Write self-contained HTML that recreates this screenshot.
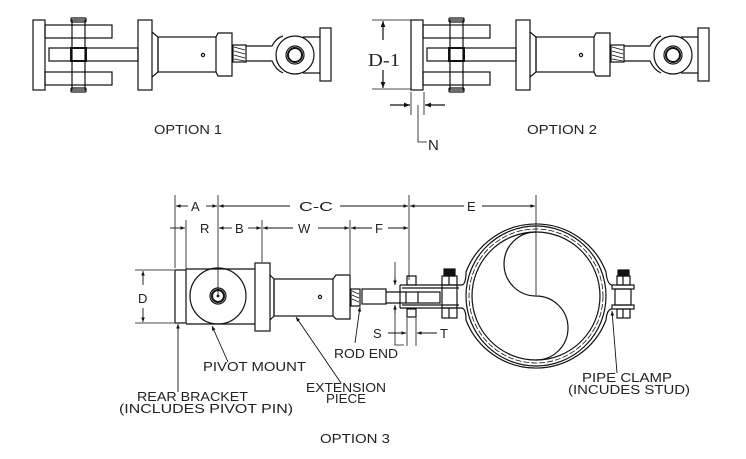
<!DOCTYPE html>
<html><head><meta charset="utf-8"><style>
html,body{margin:0;padding:0;background:#fff}
svg{display:block}
text{font-family:"Liberation Sans",sans-serif;font-size:13px;fill:#222}
</style></head><body>
<svg width="746" height="459" viewBox="0 0 746 459" xmlns="http://www.w3.org/2000/svg" fill="none" stroke="#111" stroke-width="1.2">
<defs>
<marker id="ar" viewBox="0 0 10 10" refX="10" refY="5" markerWidth="7" markerHeight="5" orient="auto-start-reverse"><path d="M0,1 L10,5 L0,9 z" fill="#111" stroke="none"/></marker>
</defs>
<!-- OPTION 1 -->
<g>
<rect x="33" y="20" width="12" height="70"/>
<rect x="45" y="25" width="67" height="13"/>
<rect x="45" y="72" width="67" height="13"/>
<rect x="49" y="48" width="89" height="13"/>
<rect x="72" y="20" width="13" height="70"/>
<rect x="71" y="18" width="15" height="4" rx="1"/>
<rect x="71" y="88" width="15" height="4" rx="1"/>
<rect x="71" y="48" width="15" height="13" stroke-width="2"/>
<rect x="138" y="20" width="14" height="70"/>
<path d="M152,32 L158,37 L158,72 L152,77"/>
<rect x="158" y="37" width="58" height="35"/>
<circle cx="203" cy="55" r="1.6"/>
<path d="M216,37 L218,33 L232,33 L232,76 L218,76 L216,72"/>
<rect x="233" y="45" width="13" height="17"/>
<path d="M234,47 l11,3 M234,51 l11,3 M234,55 l11,3 M234,59 l11,2" stroke-width="0.8"/>
<path d="M246,46 L272,46 Q276,38 283,36 M246,61 L272,61 Q276,70 283,73"/>
<circle cx="295" cy="55" r="19"/>
<circle cx="295" cy="55" r="9"/>
<circle cx="295" cy="55" r="7" stroke-width="2"/>
<path d="M303,37 L320,37 M303,73 L320,73"/>
<rect x="320" y="28" width="11" height="53"/>
</g>
<text x="154" y="134" textLength="68" lengthAdjust="spacingAndGlyphs" stroke="none">OPTION 1</text>
<!-- OPTION 2 -->
<g transform="translate(378,0)">
<rect x="33" y="20" width="12" height="70"/>
<rect x="45" y="25" width="67" height="13"/>
<rect x="45" y="72" width="67" height="13"/>
<rect x="49" y="48" width="89" height="13"/>
<rect x="72" y="20" width="13" height="70"/>
<rect x="71" y="18" width="15" height="4" rx="1"/>
<rect x="71" y="88" width="15" height="4" rx="1"/>
<rect x="71" y="48" width="15" height="13" stroke-width="2"/>
<rect x="138" y="20" width="14" height="70"/>
<path d="M152,32 L158,37 L158,72 L152,77"/>
<rect x="158" y="37" width="58" height="35"/>
<circle cx="203" cy="55" r="1.6"/>
<path d="M216,37 L218,33 L232,33 L232,76 L218,76 L216,72"/>
<rect x="233" y="45" width="13" height="17"/>
<path d="M234,47 l11,3 M234,51 l11,3 M234,55 l11,3 M234,59 l11,2" stroke-width="0.8"/>
<path d="M246,46 L272,46 Q276,38 283,36 M246,61 L272,61 Q276,70 283,73"/>
<circle cx="295" cy="55" r="19"/>
<circle cx="295" cy="55" r="9"/>
<circle cx="295" cy="55" r="7" stroke-width="2"/>
<path d="M303,37 L320,37 M303,73 L320,73"/>
<rect x="320" y="28" width="11" height="53"/>
</g>
<path d="M372,20 H411 M372,89 H411" stroke-width="0.8"/>
<path d="M383,40 V21" marker-end="url(#ar)"/><path d="M383,70 V88" marker-end="url(#ar)"/>
<text x="368" y="66" textLength="32" lengthAdjust="spacingAndGlyphs" stroke="none" style="font-family:'Liberation Serif',serif;font-size:18px">D-1</text>
<path d="M411,92 V115 M424,92 V115" stroke-width="0.8"/>
<path d="M390,105 H410" marker-end="url(#ar)"/><path d="M445,105 H425" marker-end="url(#ar)"/>
<path d="M418,105 V142 H427" stroke-width="0.8"/>
<text x="428" y="150" stroke="none" style="font-size:15px">N</text>
<text x="527" y="134" textLength="70" lengthAdjust="spacingAndGlyphs" stroke="none">OPTION 2</text>

<!-- OPTION 3 -->
<rect x="175" y="270" width="11" height="53"/>
<path d="M186,269 H255 M186,324 H255"/>
<circle cx="218" cy="296" r="28"/>
<circle cx="218" cy="296" r="8"/>
<circle cx="218" cy="296" r="6" stroke-width="2"/>
<circle cx="218" cy="296" r="0.8" fill="#111"/>
<rect x="255" y="263" width="15" height="68"/>
<path d="M270,275 L274,279 L274,316 L270,320"/>
<rect x="274" y="279" width="59" height="37"/>
<circle cx="320" cy="297" r="1.6"/>
<path d="M333,279 L336,275 L350,275 L350,319 L336,319 L333,316"/>
<rect x="351" y="289" width="9" height="17"/>
<path d="M352,291 l7,3 M352,295 l7,3 M352,299 l7,3" stroke-width="0.8"/>
<rect x="362" y="289" width="24" height="15"/>
<path d="M386,292 H406 M386,303 H406"/>
<path d="M400,285 H462 M400,308 H462 M400,285 V308"/>
<path d="M402,288 H459 M402,305 H459"/>
<rect x="406" y="292" width="34" height="11"/>
<path d="M418,292 V303"/>
<rect x="407" y="276" width="9" height="9"/>
<rect x="407" y="309" width="9" height="8"/>
<rect x="442" y="276" width="15" height="9"/><path d="M449,276 V285"/>
<rect x="444" y="269" width="11" height="7" fill="#111"/>
<rect x="442" y="308" width="15" height="10"/><path d="M449,308 V318"/>
<path d="M442,285 V308 M457,285 V308"/>
<!-- pipe clamp -->
<path d="M462,285 Q466,284 466,272 A75,75 0 0,1 606,272 Q607,284 612,285"/>
<path d="M462,308 Q466,309 466,320 A75,75 0 0,0 606,320 Q607,309 612,309"/>
<circle cx="536" cy="296" r="70"/>
<circle cx="536" cy="296" r="67" stroke-dasharray="6,2" stroke-width="0.8"/>
<circle cx="536" cy="296" r="64"/>
<path d="M536,232 A32,32 0 0,0 536,296 A32,32 0 0,1 536,360"/>
<rect x="612" y="285" width="22" height="4"/>
<rect x="612" y="305" width="22" height="4"/>
<rect x="615" y="289" width="16" height="16"/>
<rect x="617" y="276" width="13" height="9"/><path d="M623,276 V285"/>
<rect x="618" y="270" width="11" height="6" fill="#111"/>
<rect x="617" y="309" width="13" height="9"/><path d="M623,309 V318"/>

<!-- dimensions -->
<g stroke-width="0.8">
<path d="M175,195 V268 M218,195 V295 M409,195 V280 M536,195 V295 M186,220 V270 M262,220 V262 M350,220 V274"/>
<path d="M135,270 H174 M135,323 H174"/>
<path d="M395,262 V284 M395,305 V345 H404 M407,318 V346 M416,318 V346"/>
</g>
<g stroke-width="0.9">
<path d="M188,206 H176" marker-end="url(#ar)"/><path d="M206,206 H217" marker-end="url(#ar)"/>
<path d="M290,206 H219" marker-end="url(#ar)"/><path d="M340,206 H408" marker-end="url(#ar)"/>
<path d="M464,206 H410" marker-end="url(#ar)"/><path d="M482,206 H535" marker-end="url(#ar)"/>
<path d="M170,228 H185" marker-end="url(#ar)"/>
<path d="M232,228 H219" marker-end="url(#ar)"/><path d="M248,228 H261" marker-end="url(#ar)"/>
<path d="M293,228 H263" marker-end="url(#ar)"/><path d="M318,228 H349" marker-end="url(#ar)"/>
<path d="M372,228 H351" marker-end="url(#ar)"/><path d="M388,228 H408" marker-end="url(#ar)"/>
<path d="M143,285 V271" marker-end="url(#ar)"/><path d="M143,308 V322" marker-end="url(#ar)"/>
<path d="M395,277 V285" marker-end="url(#ar)"/><path d="M395,313 V305" marker-end="url(#ar)"/>
<path d="M388,333 H406" marker-end="url(#ar)"/><path d="M437,333 H417" marker-end="url(#ar)"/>
<path d="M178,392 V324" marker-end="url(#ar)"/>
<path d="M228,362 L212,326" marker-end="url(#ar)"/>
<path d="M341,383 L296,317" marker-end="url(#ar)"/>
<path d="M355,343 L360,307" marker-end="url(#ar)"/>
<path d="M617,373 L612,311" marker-end="url(#ar)"/>
</g>
<g stroke="none" style="font-size:15px">
<text x="191" y="211">A</text>
<text x="299" y="211" textLength="34" lengthAdjust="spacingAndGlyphs">C-C</text>
<text x="467" y="211">E</text>
<text x="200" y="233">R</text>
<text x="235" y="233">B</text>
<text x="298" y="233">W</text>
<text x="375" y="233">F</text>
<text x="138" y="303">D</text>
<text x="373" y="338">S</text>
<text x="440" y="338">T</text>
</g>
<g stroke="none">
<text x="334" y="358" textLength="64" lengthAdjust="spacingAndGlyphs">ROD END</text>
<text x="203" y="371" textLength="103" lengthAdjust="spacingAndGlyphs">PIVOT MOUNT</text>
<text x="306" y="392" textLength="80" lengthAdjust="spacingAndGlyphs">EXTENSION</text>
<text x="326" y="403" textLength="40" lengthAdjust="spacingAndGlyphs">PIECE</text>
<text x="137" y="401" textLength="111" lengthAdjust="spacingAndGlyphs">REAR BRACKET</text>
<text x="119" y="413" textLength="174" lengthAdjust="spacingAndGlyphs">(INCLUDES PIVOT PIN)</text>
<text x="320" y="443" textLength="70" lengthAdjust="spacingAndGlyphs">OPTION 3</text>
<text x="582" y="382" textLength="90" lengthAdjust="spacingAndGlyphs">PIPE CLAMP</text>
<text x="568" y="394" textLength="122" lengthAdjust="spacingAndGlyphs">(INCUDES STUD)</text>
</g>
</svg>
</body></html>
